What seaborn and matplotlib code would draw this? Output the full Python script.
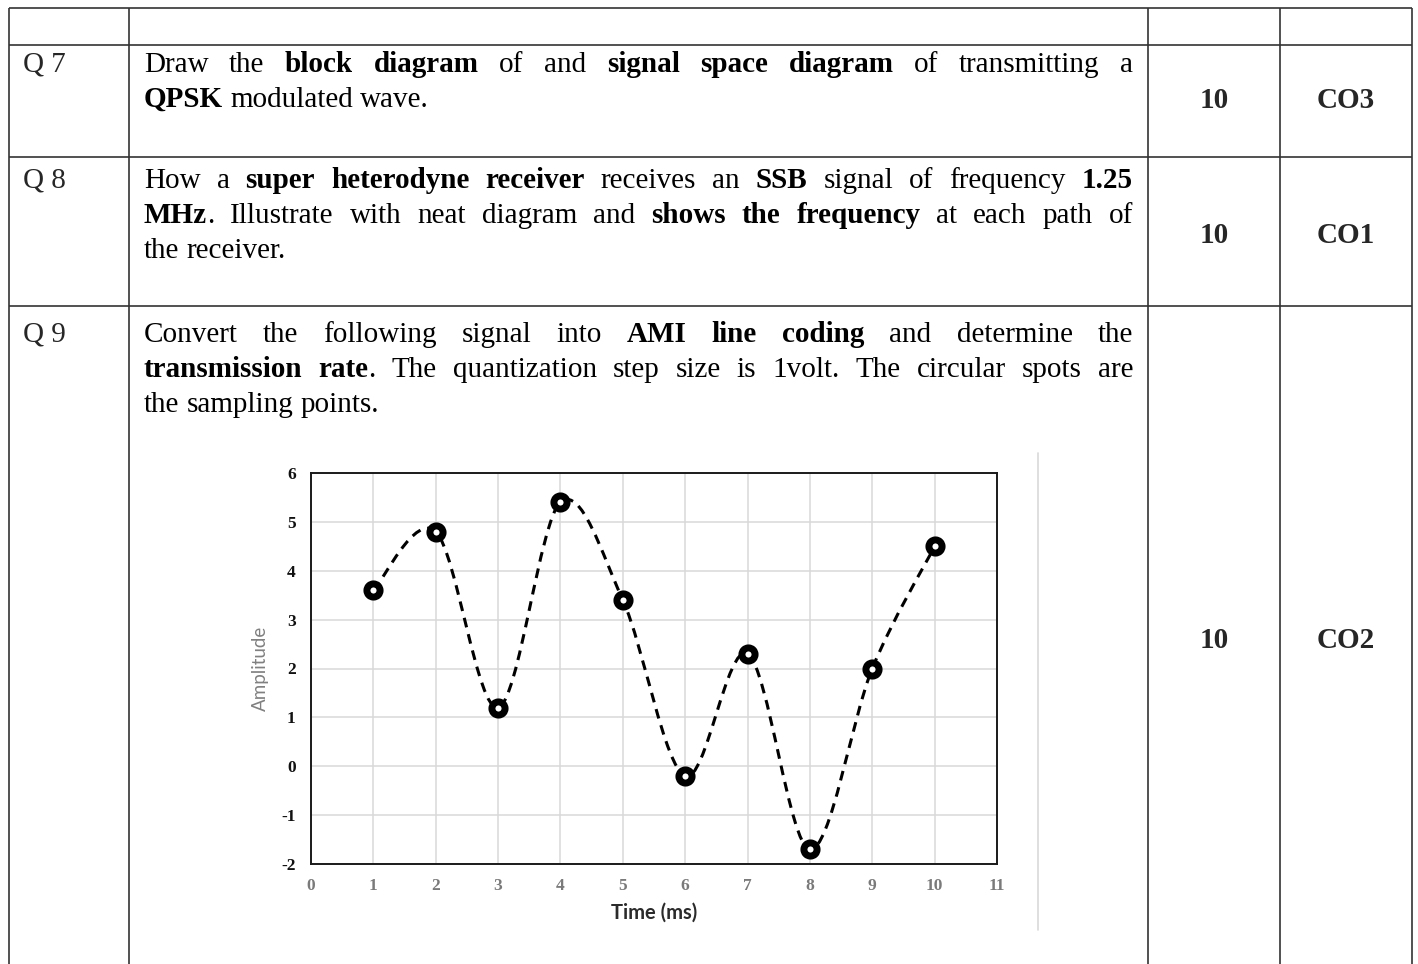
import matplotlib
matplotlib.use("Agg")
import matplotlib.pyplot as plt
from matplotlib.path import Path
from matplotlib.patches import PathPatch
import seaborn as sns
import numpy as np

# sampled signal (Q 9 figure)
time_ms = [1, 2, 3, 4, 5, 6, 7, 8, 9, 10]
amplitude = [3.6, 4.8, 1.2, 5.4, 3.4, -0.2, 2.3, -1.7, 2.0, 4.5]
x_ticks = list(range(0, 12))
y_ticks = list(range(-2, 7))

# table content, *...* marks bold
q_labels = ["Q 7", "Q 8", "Q 9"]
marks = ["10", "10", "10"]
course_outcomes = ["CO3", "CO1", "CO2"]
q7_lines = ["Draw the *block diagram* of and *signal space diagram* of transmitting a",
            "*QPSK* modulated wave."]
q8_lines = ["How a *super heterodyne receiver* receives an *SSB* signal of frequency *1.25*",
            "*MHz*. Illustrate with neat diagram and *shows the frequency* at each path of",
            "the receiver."]
q9_lines = ["Convert the following signal into *AMI line coding* and determine the",
            "*transmission rate*. The quantization step size is 1volt. The circular spots are",
            "the sampling points."]

sns.set_style("white")
plt.rcParams['font.family'] = ['Liberation Serif', 'DejaVu Serif']
plt.rcParams['axes.unicode_minus'] = False

W, H = 1418, 964
fig = plt.figure(figsize=(W / 100, H / 100), dpi=100)
bg = fig.add_axes([0, 0, 1, 1])
bg.set_xlim(0, W)
bg.set_ylim(H, 0)
bg.axis('off')

# table grid
line_kw = dict(color='#333333', lw=1.2, solid_capstyle='butt')
for yy in [8, 45, 157, 306]:
    bg.plot([9, 1412], [yy, yy], **line_kw)
for xx in [9, 129, 1148, 1280, 1412]:
    bg.plot([xx, xx], [8, H], **line_kw)

FS = 21
renderer = fig.canvas.get_renderer()


def parse(line):
    words, cur, bold, buf = [], [], False, ""
    for ch in line:
        if ch == '*':
            if buf:
                cur.append((buf, bold))
                buf = ""
            bold = not bold
        elif ch == ' ':
            if buf:
                cur.append((buf, bold))
                buf = ""
            if cur:
                words.append(cur)
                cur = []
        else:
            buf += ch
    if buf:
        cur.append((buf, bold))
    if cur:
        words.append(cur)
    return words


def draw_line(line, x0, x1, y, justify):
    words = parse(line)
    arts = []
    widths = []
    for w in words:
        parts = []
        tot = 0
        for txt, b in w:
            t = bg.text(0, y, txt, fontsize=FS, fontweight='bold' if b else 'normal',
                        ha='left', va='baseline', color='black')
            wd = t.get_window_extent(renderer).width
            parts.append((t, wd))
            tot += wd
        arts.append(parts)
        widths.append(tot)
    space = 0.25 * FS * 100 / 72
    if justify and len(words) > 1:
        gap = (x1 - x0 - sum(widths)) / (len(words) - 1)
    else:
        gap = space
    x = x0
    for parts, wd in zip(arts, widths):
        xx = x
        for t, pw in parts:
            t.set_x(xx)
            xx += pw
        x += wd + gap


blocks = [(q7_lines, 72), (q8_lines, 188), (q9_lines, 342)]
for lines, y0 in blocks:
    for i, ln in enumerate(lines):
        draw_line(ln, 144, 1133, y0 + i * 35, justify=(i < len(lines) - 1))

for lab, mk, co, yb, yc in zip(q_labels, marks, course_outcomes, [72, 188, 342], [108, 243, 648]):
    bg.text(23, yb, lab, fontsize=FS, ha='left', va='baseline')
    bg.text(1214, yc, mk, fontsize=FS, fontweight='bold', ha='center', va='baseline')
    bg.text(1346, yc, co, fontsize=FS, fontweight='bold', ha='center', va='baseline')

# faint chart-area border of the embedded figure
bg.plot([1038, 1038], [453, 930], color='#d9d9d9', lw=1.2)

# embedded chart
ax = fig.add_axes([311 / W, (H - 864) / H, 686 / W, 391 / H])
ax.set_xlim(0, 11)
ax.set_ylim(-2, 6)
ax.set_xticks(x_ticks)
ax.set_yticks(y_ticks)
ax.grid(True, color='#d9d9d9', lw=1.1)
ax.set_axisbelow(True)
for s in ax.spines.values():
    s.set_color('#1a1a1a')
    s.set_linewidth(1.4)
ax.tick_params(axis='both', length=0, labelsize=12.5)
ax.tick_params(axis='y', pad=11, labelcolor='#111111')
ax.tick_params(axis='x', pad=10, labelcolor='#7a7a7a')
for lbl in ax.get_xticklabels() + ax.get_yticklabels():
    lbl.set_fontweight('bold')

# smoothed dashed line (Catmull-Rom bezier through the samples)
pts = np.column_stack([time_ms, amplitude])
ext = np.vstack([pts[0], pts, pts[-1]])
verts = [tuple(pts[0])]
codes = [Path.MOVETO]
for i in range(1, len(ext) - 2):
    p0, p1, p2, p3 = ext[i - 1], ext[i], ext[i + 1], ext[i + 2]
    c1 = p1 + (p2 - p0) / 6
    c2 = p2 - (p3 - p1) / 6
    verts += [tuple(c1), tuple(c2), tuple(p2)]
    codes += [Path.CURVE4] * 3
curve = PathPatch(Path(verts, codes), fill=False, edgecolor='black', lw=2.2,
                  linestyle=(0, (3.2, 2.3)), zorder=3)
ax.add_patch(curve)

sns.scatterplot(x=time_ms, y=amplitude, ax=ax, s=90, facecolor='white',
                edgecolor='black', linewidth=5.0, zorder=4, legend=False)

ax.set_xlabel('Time (ms)', family='Lato', fontweight='bold', fontsize=14.5,
              color='#2b2b2b', labelpad=6)
ax.set_ylabel('Amplitude', family='Lato', fontsize=13.5, color='#808080', labelpad=9)

fig.savefig('out.png', dpi=100)
